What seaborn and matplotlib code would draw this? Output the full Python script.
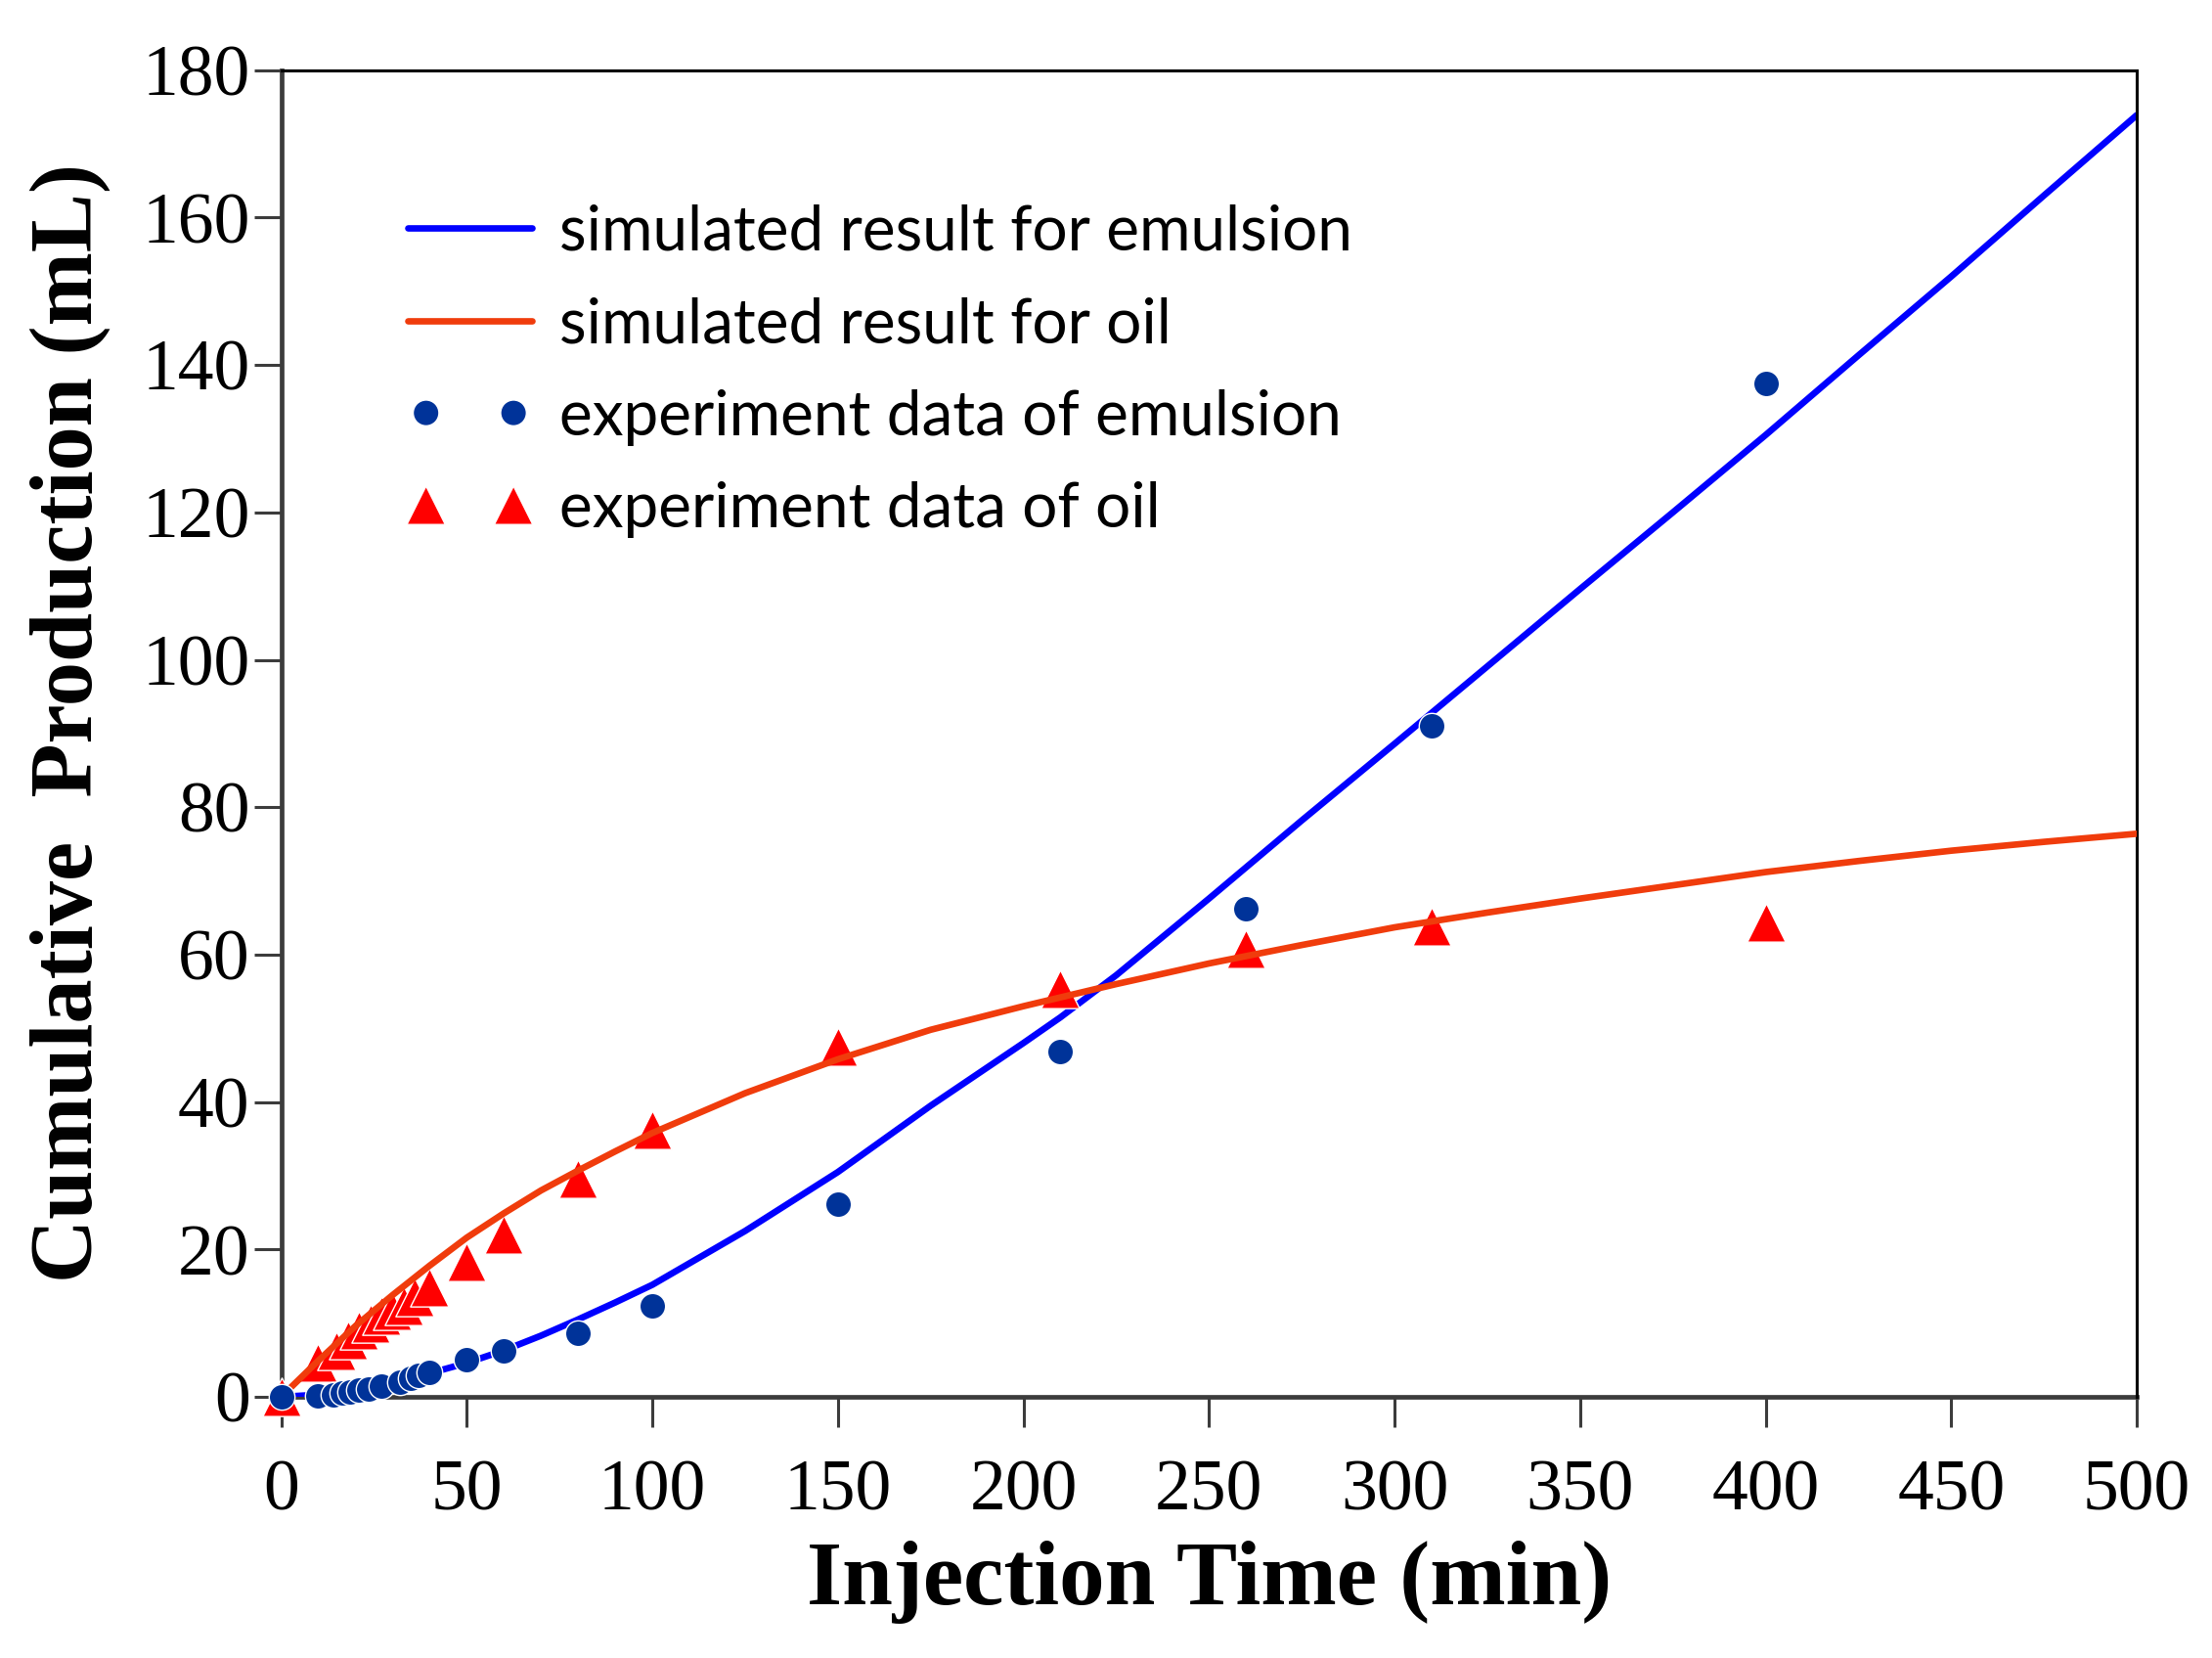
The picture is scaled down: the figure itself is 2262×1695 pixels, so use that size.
import numpy as np
import pandas as pd
import seaborn as sns
import matplotlib.pyplot as plt

# ----------------------------------------------------------------------------
# data
# ----------------------------------------------------------------------------

# simulated curves (min, mL)
sim_time = [0, 10, 20, 30, 40, 50, 60, 70, 80, 90, 100, 125, 150, 175, 200,
            210, 225, 250, 275, 300, 325, 350, 375, 400, 425, 450, 475, 500]
sim_emulsion = [0, 0.3, 1.0, 2.0, 3.2, 4.6, 6.3, 8.3, 10.5, 12.8, 15.2, 22.5,
                30.5, 39.5, 48.0, 51.5, 57.2, 67.6, 78.2, 88.6, 99.1, 109.6,
                120.0, 130.5, 141.3, 152.0, 163.0, 173.9]
sim_oil = [0, 4.9, 9.6, 13.8, 17.8, 21.6, 24.9, 28.0, 30.7, 33.3, 35.8, 41.2,
           45.8, 49.8, 53.0, 54.2, 56.0, 58.8, 61.3, 63.7, 65.7, 67.6, 69.4,
           71.2, 72.7, 74.1, 75.3, 76.4]

# experiment data of emulsion
exp_time_em = [0, 10, 14, 16.5, 18.5, 21, 23.5, 27, 32, 35, 37, 40, 50, 60,
               80, 100, 150, 210, 260, 310, 400]
exp_emulsion = [0, 0.2, 0.3, 0.5, 0.7, 0.9, 1.1, 1.4, 2.0, 2.5, 2.9, 3.3, 5.1,
                6.2, 8.6, 12.3, 26.2, 46.8, 66.2, 91.1, 137.5]

# experiment data of oil
exp_time_oil = [0, 10, 15, 18, 21, 24, 27, 30, 33, 36, 40, 50, 60, 80, 100,
                150, 210, 260, 310, 400]
exp_oil = [0, 4.6, 6.3, 7.7, 9.0, 9.9, 11.0, 11.7, 12.3, 13.6, 14.9, 18.3,
           22.0, 29.6, 36.3, 47.5, 55.4, 60.8, 63.9, 64.4]

x_ticks = list(range(0, 501, 50))
y_ticks = list(range(0, 181, 20))

labels = ["simulated result for emulsion", "simulated result for oil",
          "experiment data of emulsion", "experiment data of oil"]

# ----------------------------------------------------------------------------
# plot
# ----------------------------------------------------------------------------
sns.set_style("white")
plt.rcParams['font.family'] = ['Liberation Serif', 'DejaVu Serif']
plt.rcParams['text.color'] = 'black'
plt.rcParams['axes.labelcolor'] = 'black'

fig = plt.figure(figsize=(22.62, 16.95), dpi=100)
ax = fig.add_axes([0.1271, 0.1575, 0.8389, 0.8002])

sim = pd.DataFrame({"t": sim_time, "em": sim_emulsion, "oil": sim_oil})
em = pd.DataFrame({"t": exp_time_em, "v": exp_emulsion})
oil = pd.DataFrame({"t": exp_time_oil, "v": exp_oil})

sns.lineplot(data=sim, x="t", y="em", ax=ax, color="#0000FF", linewidth=4.8,
             label=labels[0], zorder=2, estimator=None)
sns.lineplot(data=sim, x="t", y="oil", ax=ax, color="#F03C0C", linewidth=4.8,
             label=labels[1], zorder=4, estimator=None)
sns.scatterplot(data=em, x="t", y="v", ax=ax, marker="o", s=360,
                color="#003399", edgecolor="white", linewidth=1.0,
                label=labels[2], zorder=5, clip_on=False)
sns.scatterplot(data=oil, x="t", y="v", ax=ax, marker="^", s=800,
                color="#FF0000", edgecolor="white", linewidth=1.0,
                label=labels[3], zorder=3, clip_on=False)

ax.set_xlim(0, 500)
ax.set_ylim(0, 180)
ax.set_xticks(x_ticks)
ax.set_yticks(y_ticks)

# axis frame
for side in ["bottom", "left"]:
    ax.spines[side].set_color("#3c3c3c")
    ax.spines[side].set_linewidth(3.4)
for side in ["top", "right"]:
    ax.spines[side].set_color("black")
    ax.spines[side].set_linewidth(2.2)
ax.spines["bottom"].set_zorder(1)
ax.spines["left"].set_zorder(1)

ax.tick_params(axis="x", direction="out", length=22, width=2.2,
               color="#3c3c3c", labelcolor="black", pad=24, labelsize=53,
               bottom=True)
ax.tick_params(axis="y", direction="out", length=20, width=2.2,
               color="#3c3c3c", labelcolor="black", pad=3, labelsize=53,
               left=True)

ax.set_xlabel("Injection Time (min)", fontsize=67, fontweight="bold")
ax.set_ylabel("Cumulative  Production (mL)", fontsize=65, fontweight="bold")
ax.xaxis.set_label_coords(0.5, -0.108)
ax.yaxis.set_label_coords(-0.092, 0.508)

# legend without frame, two markers per scatter entry
leg = ax.legend(loc="upper left", bbox_to_anchor=(0.068, 0.899),
                frameon=False, prop=dict(family="Lato", size=46),
                handlelength=2.0, handletextpad=0.43, labelspacing=0.57,
                scatterpoints=2, scatteryoffsets=[0.5],
                borderaxespad=0, borderpad=0)
for txt in leg.get_texts():
    txt.set_color("black")

fig.savefig("out.png", dpi=100)
